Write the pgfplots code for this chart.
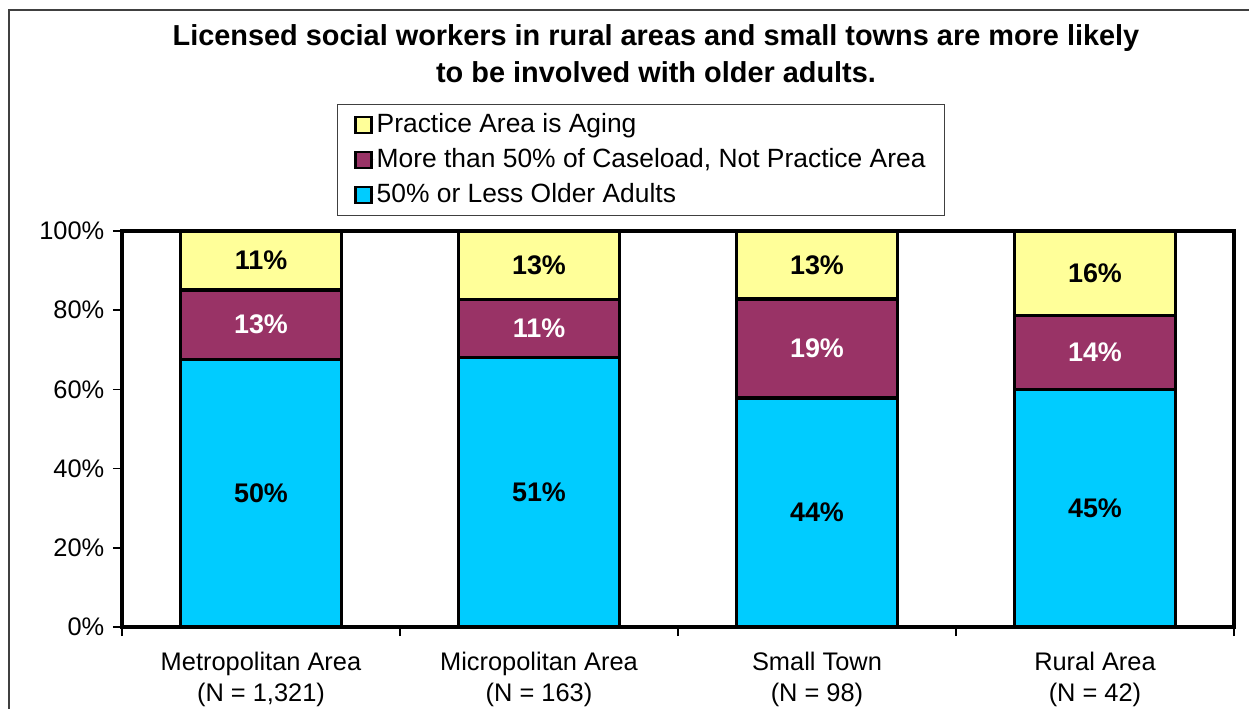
\documentclass[border=0pt]{standalone}
\usepackage{fontspec}
\setmainfont{Liberation Sans}
\usepackage{pgfplots}
\pgfplotsset{compat=1.18}
\usepackage{pgfplotstable}

\definecolor{aging}{HTML}{FFFF99}
\definecolor{caseload}{HTML}{993366}
\definecolor{lessolder}{HTML}{00CCFF}

% bar shares (scaled to 100)
\pgfplotstableread{
x less case aging
0 67.57 17.57 14.86
1 68.00 14.67 17.33
2 57.89 25.00 17.11
3 60.00 18.67 21.33
}\shares
% printed percentages, placed in the middle of each segment
\pgfplotstableread{
x lessmid less casemid case agingmid aging
0 33.78 50 76.35 13 92.57 11
1 34.00 51 75.33 11 91.33 13
2 28.95 44 70.39 19 91.45 13
3 30.00 45 69.33 14 89.33 16
}\labels

\pgfplotsset{frame/.style={width=1112bp, height=396bp, scale only axis,
  xmin=-0.5, xmax=3.5, ymin=0, ymax=100}}

\begin{document}
\fontsize{25.5}{32}\selectfont
\begin{tikzpicture}
\path[use as bounding box] (-122bp,-82bp) rectangle (1127bp,627bp);
\draw[black!75, line width=1.5bp] (-113bp,-82bp) -- (-113bp,617bp) -- (1127bp,617bp);
\begin{axis}[
  frame,
  ybar stacked, bar width=0.58,
  axis line style={line width=4bp},
  xtick={0,1,2,3},
  xticklabels={{Metropolitan Area\\(N = 1,321)},{Micropolitan Area\\(N = 163)},{Small Town\\(N = 98)},{Rural Area\\(N = 42)}},
  x tick label style={align=center, yshift=-7bp},
  major x tick style={draw=none},
  minor xtick={-0.5,0.5,1.5,2.5,3.5},
  minor tick length=9bp,
  ytick={0,20,40,60,80,100},
  yticklabel={\pgfmathprintnumber{\tick}\%},
  /pgf/number format/assume math mode=true,
  major tick length=9bp,
  tick align=outside, xtick pos=bottom, ytick pos=left,
  tick style={black, line width=1.5bp},
  every tick label/.append style={black},
  legend style={at={(0.1933,1.3207)}, anchor=north west, draw=black!75, line width=1bp,
    font=\fontsize{26.5}{32}\selectfont,
    row sep=8bp, inner xsep=17bp, inner ysep=7bp, cells={anchor=west}},
  reverse legend,
  legend image code/.code={\path[draw=none] (0bp,0bp) -- (19bp,0bp);
    \draw[#1, draw=black, line width=2.5bp] (0bp,-8bp) rectangle (16bp,8bp);},
  every axis plot/.append style={draw=black, line width=3.5bp},
]
\addplot[fill=lessolder] table[x=x, y=less] {\shares};
\addlegendentry{50\% or Less Older Adults}
\addplot[fill=caseload] table[x=x, y=case] {\shares};
\addlegendentry{More than 50\% of Caseload, Not Practice Area}
\addplot[fill=aging] table[x=x, y=aging] {\shares};
\addlegendentry{Practice Area is Aging}
\end{axis}
\begin{axis}[frame, hide axis,
  nodes near coords={\pgfmathprintnumber{\pgfplotspointmeta}\%},
  point meta=explicit,
  every node near coord/.append style={anchor=center, font=\fontsize{27}{32}\selectfont\bfseries},
  /pgf/number format/assume math mode=true]
\addplot[only marks, mark=none] table[x=x, y=lessmid, meta=less] {\labels};
\addplot[only marks, mark=none, every node near coord/.append style={white}] table[x=x, y=casemid, meta=case] {\labels};
\addplot[only marks, mark=none] table[x=x, y=agingmid, meta=aging] {\labels};
\end{axis}
\node[align=center, font=\fontsize{29}{37}\selectfont\bfseries] at (534bp,573.5bp)
  {Licensed social workers in rural areas and small towns are more likely\\to be involved with older adults.};
\end{tikzpicture}
\end{document}
